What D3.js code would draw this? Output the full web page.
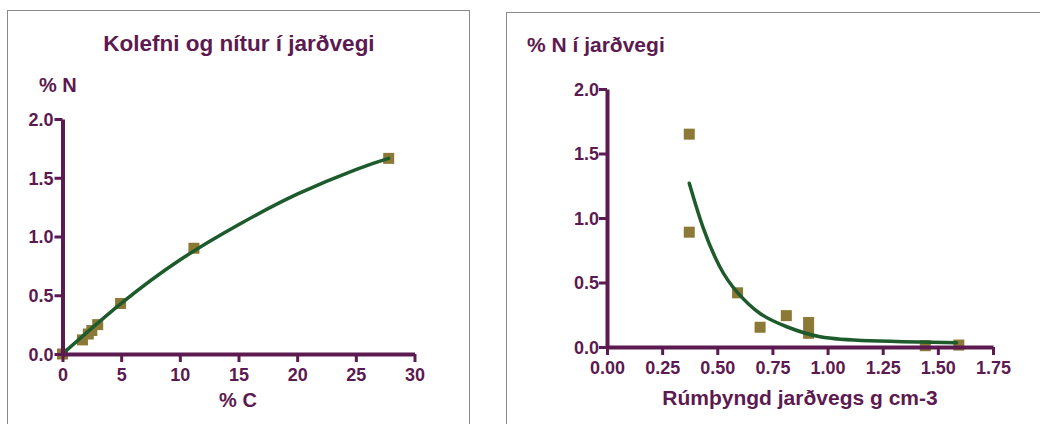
<!DOCTYPE html>
<html>
<head>
<meta charset="utf-8">
<script src="https://cdn.jsdelivr.net/npm/d3@7"></script>
<style>
  body { margin: 0; background: #fff; }
  svg text { font-family: "Liberation Sans", Arial, sans-serif; font-weight: bold; fill: #5c1a50; }
</style>
</head>
<body>
<div id="chart"></div>
<script>
// Left chart: carbon vs nitrogen
const carbonPct = [0, 1.7, 2.2, 2.5, 3.0, 4.95, 11.2, 27.8];
const nitrogenPct = [0, 0.12, 0.17, 0.20, 0.25, 0.43, 0.90, 1.665];
const fitCarbonX = [0, 5, 10, 15, 20, 25, 27.8];
const fitCarbonY = [0, 0.43, 0.80, 1.10, 1.36, 1.57, 1.665];

// Right chart: bulk density vs nitrogen
const bulkDensity = [0.373, 0.373, 0.592, 0.694, 0.813, 0.914, 0.914, 1.443, 1.595];
const nitrogenBD = [1.65, 0.89, 0.42, 0.153, 0.243, 0.19, 0.106, 0.01, 0.015];
const fitBDX = [0.373, 0.437, 0.512, 0.588, 0.694, 0.815, 0.966, 1.19, 1.42, 1.585];
const fitBDY = [1.27, 0.92, 0.62, 0.43, 0.26, 0.157, 0.08, 0.049, 0.039, 0.033];

const ticksC = [0, 5, 10, 15, 20, 25, 30];
const ticksN = [0, 0.5, 1.0, 1.5, 2.0];
const ticksBD = [0, 0.25, 0.5, 0.75, 1.0, 1.25, 1.5, 1.75];

const purple = "#5c1a50";
const markerColor = "#8c7936";
const lineColor = "#1d5a2c";

const width = 1040, height = 424;
const svg = d3.select("#chart").append("svg")
    .attr("width", width)
    .attr("height", height);

// panel borders
svg.append("rect").attr("x", 7.5).attr("y", 10.5).attr("width", 462).attr("height", 430)
    .attr("fill", "none").attr("stroke", "#8a8a8a");
svg.append("rect").attr("x", 506.5).attr("y", 12.5).attr("width", 560).attr("height", 430)
    .attr("fill", "none").attr("stroke", "#8a8a8a");

function drawAxes(g, x, y, xTicks, yTicks, xFmt, yFmt, yLabelX) {
    const xAxis = g.append("g")
        .attr("transform", `translate(0,${y.range()[0]})`)
        .call(d3.axisBottom(x).tickValues(xTicks).tickFormat(xFmt).tickSize(8).tickSizeOuter(0));
    const yAxis = g.append("g")
        .attr("transform", `translate(${x.range()[0]},0)`)
        .call(d3.axisLeft(y).tickValues(yTicks).tickFormat(yFmt).tickSize(8).tickSizeOuter(0));
    [xAxis, yAxis].forEach(a => {
        a.select(".domain").attr("stroke", purple).attr("stroke-width", 4);
        a.selectAll(".tick line").attr("stroke", purple).attr("stroke-width", 3);
        a.selectAll(".tick text").attr("font-size", 18).style("font-weight", "bold").attr("fill", purple);
    });
    xAxis.selectAll(".tick text").attr("y", 14).attr("dy", "0.71em");
    yAxis.selectAll(".tick text").attr("x", yLabelX).attr("dy", "0.35em");
}

function drawData(g, x, y, xs, ys, fx, fy) {
    const line = d3.line().x(d => x(d[0])).y(d => y(d[1])).curve(d3.curveNatural);
    g.append("g").selectAll("rect")
        .data(d3.zip(xs, ys))
        .enter().append("rect")
        .attr("x", d => x(d[0]) - 5.5)
        .attr("y", d => y(d[1]) - 5.5)
        .attr("width", 11).attr("height", 11)
        .attr("fill", markerColor);
    g.append("path")
        .datum(d3.zip(fx, fy))
        .attr("d", line)
        .attr("fill", "none")
        .attr("stroke", lineColor)
        .attr("stroke-width", 3.5)
        .attr("stroke-linecap", "round");
}

// left chart
const x1 = d3.scaleLinear().domain([0, 30]).range([62.5, 414.5]);
const y1 = d3.scaleLinear().domain([0, 2]).range([354, 119]);
const g1 = svg.append("g");
drawData(g1, x1, y1, carbonPct, nitrogenPct, fitCarbonX, fitCarbonY);
drawAxes(g1, x1, y1, ticksC, ticksN, d3.format("d"), d3.format(".1f"), -9);
g1.append("text").attr("x", 239).attr("y", 51).attr("text-anchor", "middle")
    .attr("font-size", 22.5).text("Kolefni og nítur í jarðvegi");
g1.append("text").attr("x", 39).attr("y", 92).attr("font-size", 20).text("% N");
g1.append("text").attr("x", 238).attr("y", 407).attr("text-anchor", "middle")
    .attr("font-size", 20).text("% C");

// right chart
const x2 = d3.scaleLinear().domain([0, 1.75]).range([607, 993]);
const y2 = d3.scaleLinear().domain([0, 2]).range([347, 89]);
const g2 = svg.append("g");
drawData(g2, x2, y2, bulkDensity, nitrogenBD, fitBDX, fitBDY);
drawAxes(g2, x2, y2, ticksBD, ticksN, d3.format(".2f"), d3.format(".1f"), -8);
g2.append("text").attr("x", 527).attr("y", 52).attr("font-size", 21).text("% N í jarðvegi");
g2.append("text").attr("x", 800).attr("y", 405).attr("text-anchor", "middle")
    .attr("font-size", 21).text("Rúmþyngd jarðvegs g cm-3");
</script>
</body>
</html>
